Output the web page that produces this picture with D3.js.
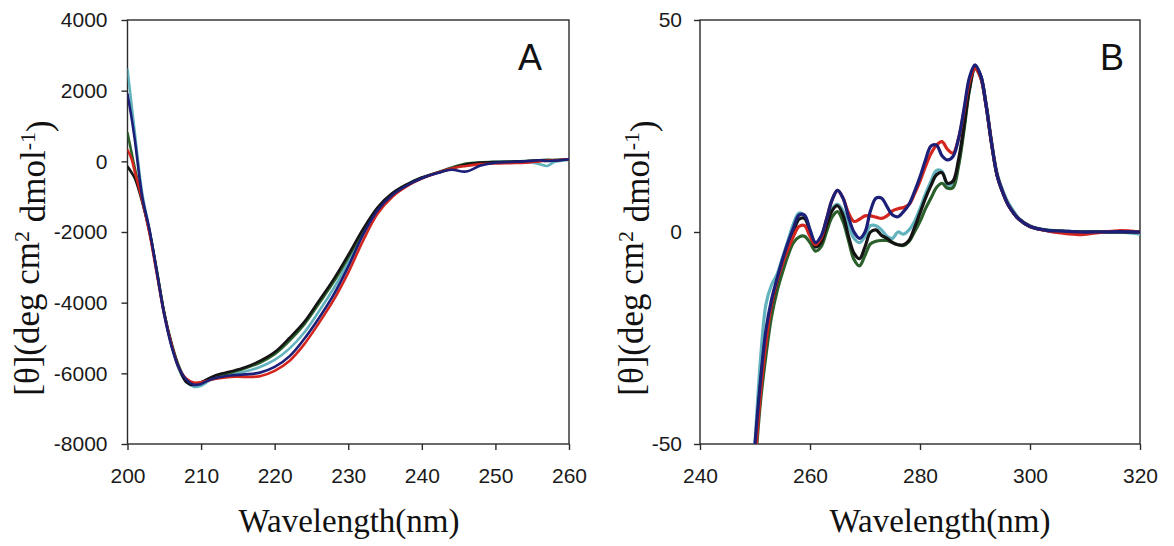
<!DOCTYPE html>
<html><head><meta charset="utf-8">
<script src="https://cdn.jsdelivr.net/npm/d3@7"></script>
<style>body{margin:0;background:#fff}</style>
</head><body><svg id="c" width="1174" height="546"></svg>
<script>
// ---------- Panel A (far-UV) ----------
const wavelengthsA = [200,200.5,201,202,203,204,205,206,207,208,209,210,211,212,214,216,218,220,222,224,226,228,230,232,234,236,238,240,242,244,246,248,250,252,254,256,257,258,260];
const navyA  = [1900,1300,600,-1000,-1950,-3150,-4350,-5250,-5850,-6180,-6320,-6300,-6200,-6130,-6060,-6030,-5980,-5820,-5520,-5030,-4440,-3780,-2980,-2080,-1380,-950,-680,-480,-340,-240,-290,-120,-40,-20,0,30,10,20,60];
const redA   = [320,100,-300,-1100,-2050,-3200,-4350,-5200,-5850,-6150,-6260,-6250,-6200,-6150,-6100,-6100,-6080,-5930,-5650,-5180,-4580,-3930,-3150,-2250,-1480,-1000,-700,-490,-330,-200,-130,-80,-60,-50,-40,0,20,30,60];
const blackA = [-150,-300,-480,-1150,-2000,-3150,-4300,-5200,-5850,-6250,-6330,-6250,-6150,-6050,-5950,-5830,-5650,-5400,-5000,-4550,-3950,-3340,-2650,-1920,-1300,-900,-650,-460,-330,-210,-90,-40,-20,-10,0,20,30,30,60];
const greenA = [800,300,-200,-1100,-2000,-3100,-4300,-5150,-5800,-6200,-6300,-6250,-6150,-6080,-5980,-5860,-5700,-5460,-5080,-4620,-4030,-3420,-2720,-1980,-1320,-910,-650,-460,-320,-180,-60,-30,-20,-10,10,30,40,40,60];
const cyanA  = [2600,1700,800,-900,-1950,-3100,-4300,-5200,-5900,-6250,-6380,-6350,-6220,-6120,-6020,-5950,-5820,-5620,-5300,-4850,-4250,-3600,-2850,-2020,-1340,-920,-650,-460,-330,-200,-100,-40,-10,-10,0,-80,-130,-20,40];
const xTicksA = [200,210,220,230,240,250,260];
const yTicksA = [-8000,-6000,-4000,-2000,0,2000,4000];

// ---------- Panel B (near-UV) ----------
const wavelengthsB = [250,251,252,253,254,255,256,257,258,259,260,261,262,263,264,265,266,267,268,269,270,271,272,273,274,275,276,277,278,279,280,281,282,283,284,285,286,287,288,289,290,291,292,293,294,295,296,297,298,300,303,306,309,312,316,320];
const navyB  = [-50,-35,-23,-16,-11,-6.5,-2.5,1,4,4,0.5,-2.5,-1,3,7.5,9.8,8,3.5,0,-1.5,0,5,8,8,6,4,3.6,4.8,6.5,9.5,13,17,20.3,20.5,18,17,17.8,22,29,36.5,39.4,37,30,21,13.5,9.5,6.5,4.5,3,1.3,0.4,0.2,0,0,0.1,0];
const redB   = [-54,-38,-26,-17,-11.5,-7.5,-4,-1,1.3,1.5,-1,-3,-1.5,3,7.5,9.8,8,4.5,2.5,3,3.8,3.8,3.5,3.2,3.8,5,5.5,5.8,6.5,9,12,15.5,18.5,20.5,21.3,19.5,18.6,22,28.5,35.5,38.5,36.5,30,21,13.5,9.5,6.5,4.5,3,1.3,0.3,-0.3,-0.6,-0.2,0.3,0];
const blackB = [-52,-36,-24,-17,-11.5,-7,-3.5,0,3,3.2,0,-3.5,-2.5,1.5,5,6.2,4,-1,-5,-6.3,-3.5,0,0.5,-0.8,-1.5,-2.5,-3,-3,-2,1,4.5,8,11,13.5,14,11.5,12,17,25,34,38.8,37,30,21,13.5,9.5,6.5,4.5,3,1.3,0.4,0.1,0,0,0,0];
const greenB = [-56,-40,-29,-20,-14,-9.5,-5.5,-2.5,-1.2,-1,-2.5,-4.5,-3.5,0,3.5,4.8,2.5,-2,-6.5,-8,-5.5,-2.8,-2.2,-2,-2,-2.5,-3,-3.2,-2.2,0,2.5,5.5,8,10.5,11.5,10.3,10.5,15.5,24,33.5,38.5,36.5,30,21,13.5,9.5,6.5,4.5,3,1.3,0.4,0.2,0,0,0,0];
const cyanB  = [-50,-30,-17,-12.5,-10,-6,-2,2,4.5,3.8,0.5,-2.5,-1.5,2.5,5.5,6.5,5,1.5,-1.5,-2.5,-1,1.5,1.5,0.5,-1,-1.5,0,-0.5,0.5,2.5,5.5,9,12,14.5,14.3,11,11.5,16,25,34,38.8,37,30.5,21.5,14,10,7,5,3.2,1.5,0.5,0.2,0,0.1,0,-0.5];
const xTicksB = [240,260,280,300,320];
const yTicksB = [-50,0,50];

const seriesOrder = ["cyan","green","black","red","navy"];
const seriesColors = {cyan:"#63b3bf", green:"#2b5f2b", black:"#141414", red:"#d3261e", navy:"#1c1f78"};

const svg = d3.select("#c");

function panel(cfg){
  const {id,x0,x1,y0,y1,xDom,yDom,xTicks,yTicks,wl,series,letter,letterX,lw,yPad,xTitleX,yTitleX} = cfg;
  const x = d3.scaleLinear().domain(xDom).range([x0,x1]);
  const y = d3.scaleLinear().domain(yDom).range([y1,y0]);
  const g = svg.append("g");
  g.append("clipPath").attr("id","clip"+id).append("rect")
    .attr("x",x0).attr("y",y0).attr("width",x1-x0).attr("height",y1-y0);
  g.append("rect").attr("x",x0).attr("y",y0).attr("width",x1-x0).attr("height",y1-y0)
    .attr("fill","none").attr("stroke","#2a2a2a").attr("stroke-width",1.4);
  const line = d3.line().x((d,i)=>x(wl[i])).y(d=>y(d)).curve(d3.curveCatmullRom.alpha(0.5));
  const lg = g.append("g").attr("clip-path","url(#clip"+id+")");
  seriesOrder.forEach(k=>{
    lg.append("path").attr("d",line(series[k])).attr("fill","none")
      .attr("stroke",seriesColors[k]).attr("stroke-width",lw)
      .attr("stroke-linejoin","round").attr("stroke-linecap","round");
  });
  const ax = g.append("g").attr("transform",`translate(0,${y1})`)
    .call(d3.axisBottom(x).tickValues(xTicks).tickSize(6).tickPadding(18).tickFormat(d=>String(d)));
  const ay = g.append("g").attr("transform",`translate(${x0},0)`)
    .call(d3.axisLeft(y).tickValues(yTicks).tickSize(6).tickPadding(yPad).tickFormat(d=>String(d)));
  [ax,ay].forEach(a=>{
    a.select(".domain").remove();
    a.selectAll(".tick line").attr("stroke","#2a2a2a").attr("stroke-width",1.4);
    a.selectAll(".tick text").attr("fill","#1a1a1a")
      .style("font-family","'Liberation Sans', Arial, sans-serif").style("font-size","21px");
  });
  g.append("text").attr("x",letterX).attr("y",70).attr("text-anchor","end")
    .style("font-family","'Liberation Sans', Arial, sans-serif").style("font-size","36px")
    .attr("fill","#111").text(letter);
  g.append("text").attr("x",xTitleX).attr("y",532).attr("text-anchor","middle")
    .style("font-family","'Liberation Serif', 'Times New Roman', serif").style("font-size","33px")
    .attr("fill","#111").text("Wavelength(nm)");
  const yt = g.append("text").attr("transform",`translate(${yTitleX},258) rotate(-90)`)
    .attr("text-anchor","middle")
    .style("font-family","'Liberation Serif', 'Times New Roman', serif").style("font-size","35px")
    .attr("fill","#111");
  yt.append("tspan").text("[θ](deg cm");
  yt.append("tspan").attr("dy","-0.45em").style("font-size","22px").text("2");
  yt.append("tspan").attr("dy","0.45em").text(" dmol");
  yt.append("tspan").attr("dy","-0.45em").style("font-size","22px").text("-1");
  yt.append("tspan").attr("dy","0.45em").text(")");
}

panel({id:"A",x0:127.5,x1:569,y0:20,y1:444,xDom:[200,260],yDom:[-8000,4000],
  xTicks:xTicksA,yTicks:yTicksA,wl:wavelengthsA,
  series:{navy:navyA,red:redA,black:blackA,green:greenA,cyan:cyanA},
  letter:"A",letterX:542,lw:2.6,yPad:14,xTitleX:349,yTitleX:39});
panel({id:"B",x0:700,x1:1140,y0:20,y1:444,xDom:[240,320],yDom:[-50,50],
  xTicks:xTicksB,yTicks:yTicksB,wl:wavelengthsB,
  series:{navy:navyB,red:redB,black:blackB,green:greenB,cyan:cyanB},
  letter:"B",letterX:1124,lw:3.2,yPad:12,xTitleX:940,yTitleX:643});
</script></body></html>
